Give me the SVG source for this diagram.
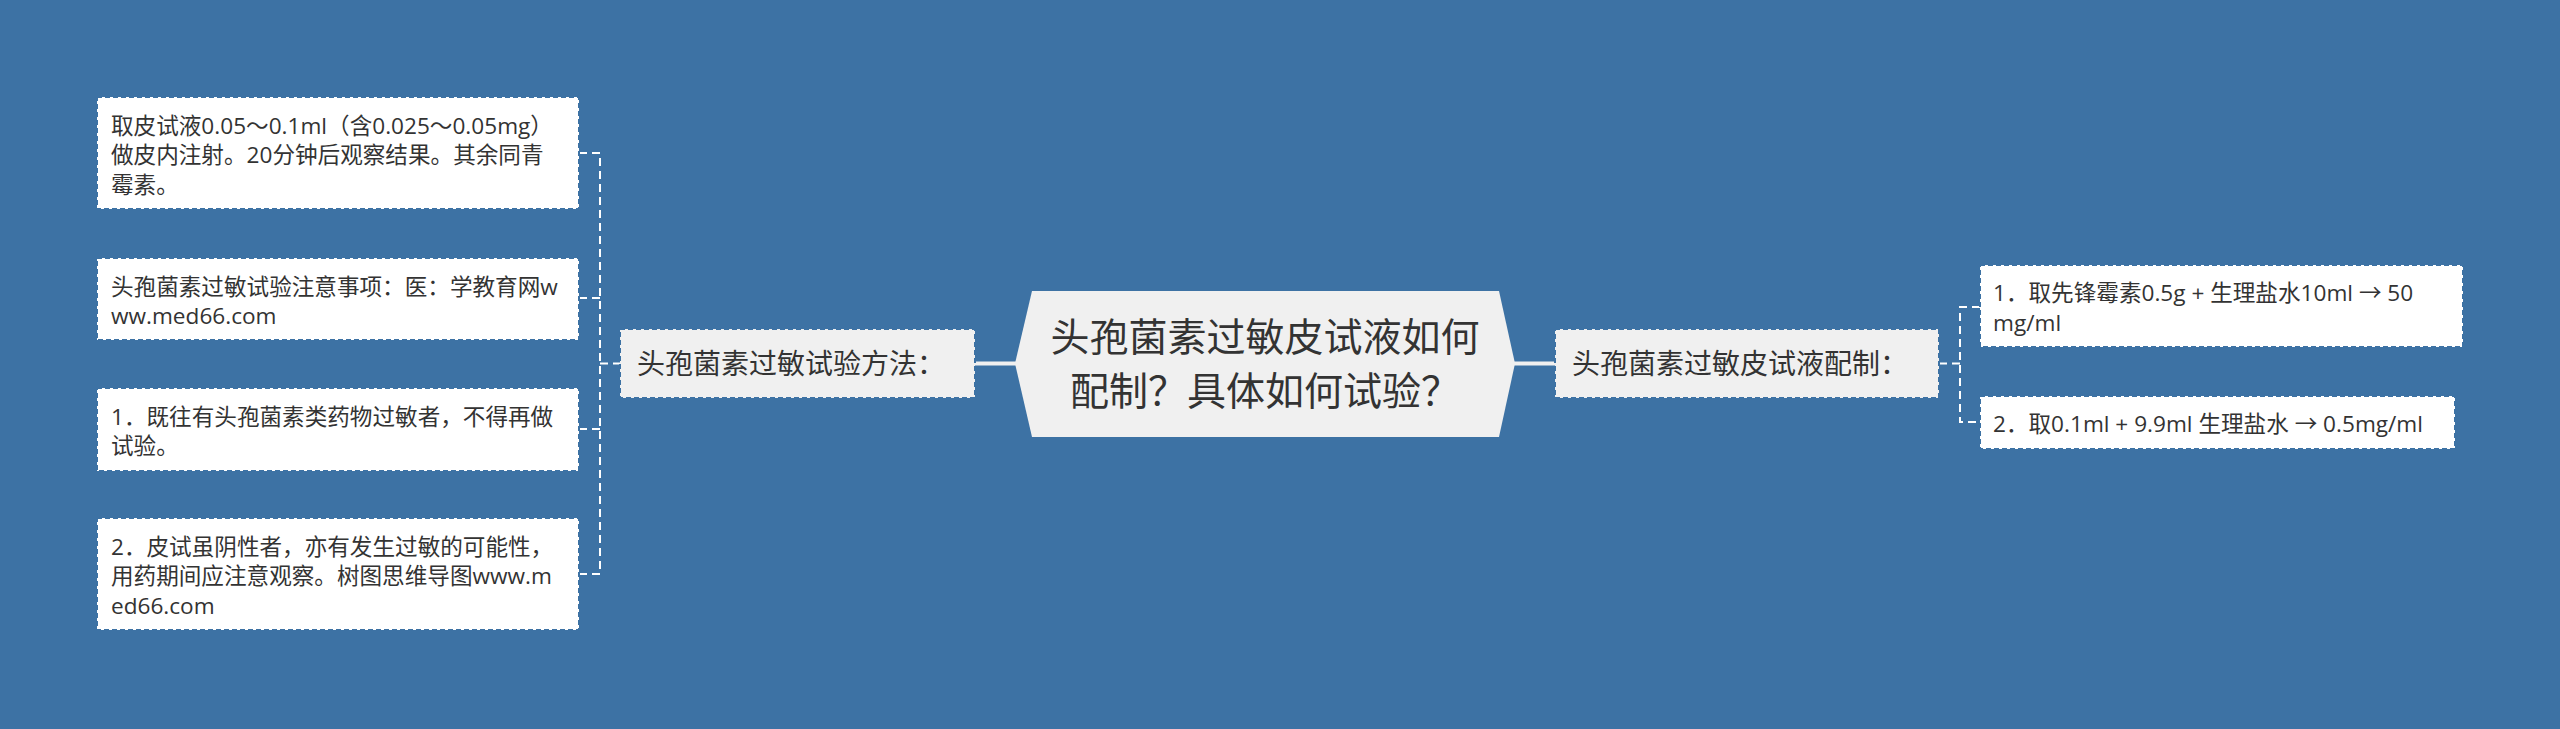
<svg xmlns="http://www.w3.org/2000/svg" width="2560" height="729" viewBox="0 0 2560 729">
<style>
.t{font-family:"Open Sans","Noto Sans CJK SC",sans-serif;fill:#333333}
.leaf{fill:#ffffff;stroke:#3d72a4;stroke-width:2;stroke-dasharray:5 3}
.sub{fill:#f0f0f0;stroke:#3d72a4;stroke-width:2;stroke-dasharray:5 3}
.s{font-size:22.6px}
.m{font-size:28px}
.c{font-size:39px}
.dl{fill:none;stroke:#ffffff;stroke-width:2;stroke-dasharray:8 5}
.sl{fill:none;stroke:#f0f0f0;stroke-width:4}
</style>
<rect x="0" y="0" width="2560" height="729" fill="#3d72a4"/>
<g id="connectors">
<path class="sl" d="M975,363.5 H1016"/>
<path class="sl" d="M1514,363.5 H1555"/>
<path class="dl" d="M579,153 H600 V574 H579"/>
<path class="dl" d="M579,298 H600"/>
<path class="dl" d="M579,429 H600"/>
<path class="dl" d="M600,363.5 H620"/>
<path class="dl" d="M1939,363.5 H1960"/>
<path class="dl" d="M1980,307 H1960 V422 H1980"/>
</g>
<g id="center">
<polygon points="1015,363.5 1032,291 1499,291 1515,363.5 1499,437 1032,437" fill="#f0f0f0"/>
<text class="t c" x="1265" y="351" text-anchor="middle">头孢菌素过敏皮试液如何</text>
<text class="t c" x="1265" y="404.5" text-anchor="middle">配制？具体如何试验？</text>
</g>
<g id="left-main">
<rect class="sub" x="620" y="329" width="355" height="69"/>
<text class="t m" x="637" y="374">头孢菌素过敏试验方法：</text>
</g>
<g id="right-main">
<rect class="sub" x="1555" y="329" width="384" height="69"/>
<text class="t m" x="1572" y="374">头孢菌素过敏皮试液配制：</text>
</g>
<g id="leaf1">
<rect class="leaf" x="97" y="97" width="482" height="112"/>
<text class="t s" x="111" y="133.5">取皮试液0.05～0.1ml（含0.025～0.05mg）</text>
<text class="t s" x="111" y="163">做皮内注射。20分钟后观察结果。其余同青</text>
<text class="t s" x="111" y="192.5">霉素。</text>
</g>
<g id="leaf2">
<rect class="leaf" x="97" y="258" width="482" height="82"/>
<text class="t s" x="111" y="294.5">头孢菌素过敏试验注意事项：医：学教育网w</text>
<text class="t s" x="111" y="324">ww.med66.com</text>
</g>
<g id="leaf3">
<rect class="leaf" x="97" y="388" width="482" height="83"/>
<text class="t s" x="111" y="424.5">1．既往有头孢菌素类药物过敏者，不得再做</text>
<text class="t s" x="111" y="454">试验。</text>
</g>
<g id="leaf4">
<rect class="leaf" x="97" y="518" width="482" height="112"/>
<text class="t s" x="111" y="554.5">2．皮试虽阴性者，亦有发生过敏的可能性，</text>
<text class="t s" x="111" y="584">用药期间应注意观察。树图思维导图www.m</text>
<text class="t s" x="111" y="613.5">ed66.com</text>
</g>
<g id="leaf5">
<rect class="leaf" x="1980" y="265" width="483" height="82"/>
<text class="t s" x="1993" y="301">1．取先锋霉素0.5g + 生理盐水10ml → 50</text>
<text class="t s" x="1993" y="330.5">mg/ml</text>
</g>
<g id="leaf6">
<rect class="leaf" x="1980" y="396" width="475" height="53"/>
<text class="t s" x="1993" y="432">2．取0.1ml + 9.9ml 生理盐水 → 0.5mg/ml</text>
</g>
</svg>
